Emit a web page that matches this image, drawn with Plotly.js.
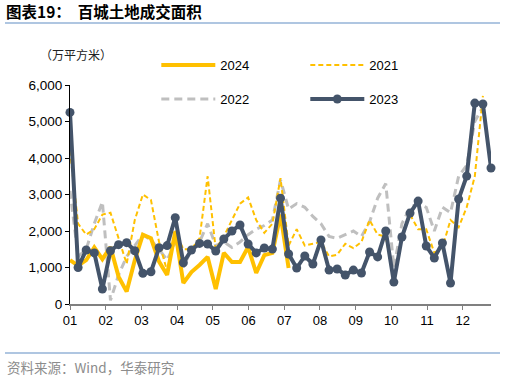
<!DOCTYPE html>
<html><head><meta charset="utf-8">
<script src="https://cdn.plot.ly/plotly-3.0.1.min.js"></script>
<style>html,body{margin:0;padding:0;background:#fff;} #chart{width:506px;height:378px;}</style>
</head><body><div id="chart"></div>
<script>
const monthLabels = ['01','02','03','04','05','06','07','08','09','10','11','12'];
const weeksPerMonth = 4.41;

const y2024 = [1200,1050,1200,1550,1230,1560,750,340,1200,1900,
               1800,1160,795,1980,575,875,1070,1290,410,1400,
               1150,1150,1560,850,1340,1400,2450,985];
const y2021 = [4200,2200,1900,2050,2450,2500,1800,1100,2300,3000,
               2850,1700,900,2000,1500,1500,1800,3500,1500,1850,
               2300,2750,2920,2300,1950,2200,3450,1600,2050,1600,
               1650,1700,1300,1350,1650,1530,1700,2300,1900,1850,
               650,1850,2450,2050,2050,1400,1550,2300,2100,2650,
               3500,5700];
const y2022 = [3100,1300,1500,2200,2800,100,800,1300,1600,1900,
               1750,1500,1200,1700,1000,1500,1700,2200,1600,1700,
               1550,1700,1900,2050,2150,2300,3400,2600,2750,2650,
               2400,2200,1850,1800,1900,2000,1850,2250,2900,3300,
               1000,2200,2650,2750,2650,2000,2650,2500,3500,3800,
               5000,5400];
const y2023 = [5250,1000,1480,1400,410,1460,1625,1680,1460,840,
               885,1540,1600,2365,1130,1480,1660,1645,1450,1780,
               2000,2165,1645,1400,1535,1505,2900,1370,985,1315,
               1095,1755,930,960,795,930,850,1425,1290,2000,
               600,1835,2490,2820,1590,1260,1670,575,2875,3505,
               5505,5480,3725];

const weeks = arr => arr.map((_, i) => i);
const font = 'Liberation Sans, Arial, sans-serif';
const cjk = 'Noto Sans CJK SC, sans-serif';

const traces = [
  {x: weeks(y2022), y: y2022, name: '2022', type: 'scatter', mode: 'lines',
   line: {color: '#BFBFBF', width: 3, dash: '8px,5px'}, legend: 'legend2', legendrank: 1},
  {x: weeks(y2021), y: y2021, name: '2021', type: 'scatter', mode: 'lines',
   line: {color: '#FFC000', width: 2, dash: '5px,3px'}, legend: 'legend', legendrank: 2},
  {x: weeks(y2024), y: y2024, name: '2024', type: 'scatter', mode: 'lines',
   line: {color: '#FFC000', width: 4}, legend: 'legend', legendrank: 1},
  {x: weeks(y2023), y: y2023, name: '2023', type: 'scatter', mode: 'lines+markers',
   line: {color: '#44546A', width: 4}, marker: {color: '#44546A', size: 9},
   cliponaxis: false, legend: 'legend2', legendrank: 2}
];

const lineColor = '#95B3D7';
const legendCommon = {orientation: 'h', xanchor: 'left', yanchor: 'middle', itemwidth: 54,
  entrywidth: 80, font: {family: font, size: 13, color: '#000'}, bgcolor: 'rgba(0,0,0,0)'};
const layout = {
  width: 506, height: 378,
  margin: {l: 70, r: 15, t: 85, b: 74},
  paper_bgcolor: '#fff', plot_bgcolor: '#fff',
  showlegend: true,
  title: {text: '<b>图表19：  百城土地成交面积</b>', xref: 'container', yref: 'container',
          x: 6/506, xanchor: 'left', y: 1 - 13/378, yanchor: 'middle',
          font: {family: cjk, size: 15.5, color: '#000'}},
  xaxis: {range: [0, 52], tickvals: monthLabels.map((_, k) => k * weeksPerMonth), ticktext: monthLabels,
          showline: true, linecolor: '#808080', linewidth: 1.5, ticks: 'outside', ticklen: 4,
          tickcolor: '#808080', tickwidth: 1, showgrid: false, zeroline: false,
          tickfont: {family: font, size: 13, color: '#000'}},
  yaxis: {range: [0, 6000], dtick: 1000, tickformat: ',d', showline: true, linecolor: '#000',
          linewidth: 1, ticks: 'outside', ticklen: 4, tickcolor: '#000', showgrid: false, zeroline: false,
          tickfont: {family: font, size: 13.5, color: '#000'}},
  legend: Object.assign({x: 0.205, y: 1.091}, legendCommon),
  legend2: Object.assign({x: 0.205, y: 0.936}, legendCommon),
  shapes: [
    {type: 'line', xref: 'paper', yref: 'paper', x0: (5-70)/421, x1: (500-70)/421,
     y0: (304-23)/219, y1: (304-23)/219, line: {color: lineColor, width: 1.5}},
    {type: 'line', xref: 'paper', yref: 'paper', x0: (5-70)/421, x1: (500-70)/421,
     y0: (304-353)/219, y1: (304-353)/219, line: {color: lineColor, width: 1.5}}
  ],
  annotations: [
    {text: '（万平方米）', xref: 'paper', yref: 'paper', x: (38-70)/421, xanchor: 'left',
     y: (304-55)/219, yanchor: 'middle', showarrow: false, font: {family: cjk, size: 12, color: '#222'}},
    {text: '资料来源：Wind，华泰研究', xref: 'paper', yref: 'paper', x: (5-70)/421, xanchor: 'left',
     y: (304-367)/219, yanchor: 'middle', showarrow: false, font: {family: cjk, size: 13.5, color: '#8c8c8c'}}
  ]
};

Plotly.newPlot('chart', traces, layout, {displayModeBar: false, staticPlot: true});
</script>
</body></html>
